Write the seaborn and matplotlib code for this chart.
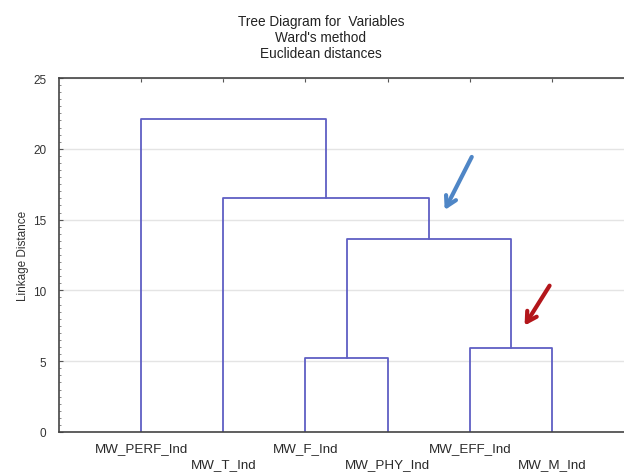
import numpy as np
import pandas as pd
import matplotlib
matplotlib.use("Agg")
import matplotlib.pyplot as plt
import seaborn as sns

# ---- data ----
leaf_labels = ["MW_PERF_Ind", "MW_T_Ind", "MW_F_Ind", "MW_PHY_Ind", "MW_EFF_Ind", "MW_M_Ind"]
# merges: (left node, right node, height); leaves 0..5, new clusters 6..10
merge_left = [2, 4, 6, 1, 0]
merge_right = [3, 5, 7, 8, 9]
merge_height = [5.2, 5.9, 13.6, 16.55, 22.1]
y_ticks = [0, 5, 10, 15, 20, 25]
title_lines = ["Tree Diagram for  Variables", "Ward's method", "Euclidean distances"]
y_label = "Linkage Distance"

# arrows (tail x, tail y, head x, head y) in data coords
arrow_blue = (4.04, 19.6, 3.68, 15.5)
arrow_red = (4.99, 10.5, 4.65, 7.35)

# ---- build segments ----
pos = {i: float(i) for i in range(len(leaf_labels))}
hgt = {i: 0.0 for i in range(len(leaf_labels))}
rows = []
for k, (a, b, h) in enumerate(zip(merge_left, merge_right, merge_height)):
    pts = [(pos[a], hgt[a]), (pos[a], h), (pos[b], h), (pos[b], hgt[b])]
    for j, (x, y) in enumerate(pts):
        rows.append({"seg": k, "order": j, "x": x, "y": y})
    new = len(leaf_labels) + k
    pos[new] = (pos[a] + pos[b]) / 2
    hgt[new] = h
df = pd.DataFrame(rows)

sns.set_style("white")
plt.rcParams["font.family"] = ["Liberation Sans", "DejaVu Sans"]

fig = plt.figure(figsize=(6.24, 4.77), dpi=100)
ax = fig.add_axes([59 / 624, 44 / 477, 575 / 624, 354 / 477])

sns.lineplot(data=df, x="x", y="y", units="seg", estimator=None, sort=False,
             color="#5f5fc4", linewidth=1.3, ax=ax, legend=False)

ax.set_xlim(-1, 6)
ax.set_ylim(0, 25)
ax.set_yticks(y_ticks)
ax.set_yticklabels([str(v) for v in y_ticks], fontsize=8.5, color="#333333")
ax.set_yticks(np.arange(0, 25.01, 0.5), minor=True)
ax.grid(axis="y", color="#e4e4e4", linewidth=1.0)
ax.set_axisbelow(True)
ax.tick_params(axis="y", which="major", direction="in", length=3, color="#555555", pad=9, left=True)
ax.tick_params(axis="y", which="minor", direction="in", length=1.5, color="#777777", left=True)

ax.set_xticks(range(len(leaf_labels)))
ax.set_xticklabels(leaf_labels, fontsize=9.6, color="#2a2a2a")
ax.tick_params(axis="x", direction="in", bottom=False, top=True, length=3,
               color="#555555", labelbottom=True)
for i, t in enumerate(ax.xaxis.get_major_ticks()):
    t.set_pad(7 if i % 2 == 0 else 19)

ax.set_xlabel("")
ax.set_ylabel(y_label, fontsize=8.5, color="#333333", labelpad=3)

for side in ["left", "top", "bottom"]:
    ax.spines[side].set_color("#444444")
    ax.spines[side].set_linewidth(1.2)
ax.spines["right"].set_visible(False)

for (x0, y0, x1, y1), col in [(arrow_blue, "#4f86c6"), (arrow_red, "#b3161b")]:
    ax.annotate("", xy=(x1, y1), xytext=(x0, y0),
                arrowprops=dict(arrowstyle="->,head_length=0.7,head_width=0.4",
                                color=col, lw=3))

for i, line in enumerate(title_lines):
    fig.text(321 / 624, 1 - (22 + 16 * i) / 477, line, ha="center", va="center",
             fontsize=9.8, color="#222222")

fig.savefig("out.png", dpi=100, facecolor="white")
